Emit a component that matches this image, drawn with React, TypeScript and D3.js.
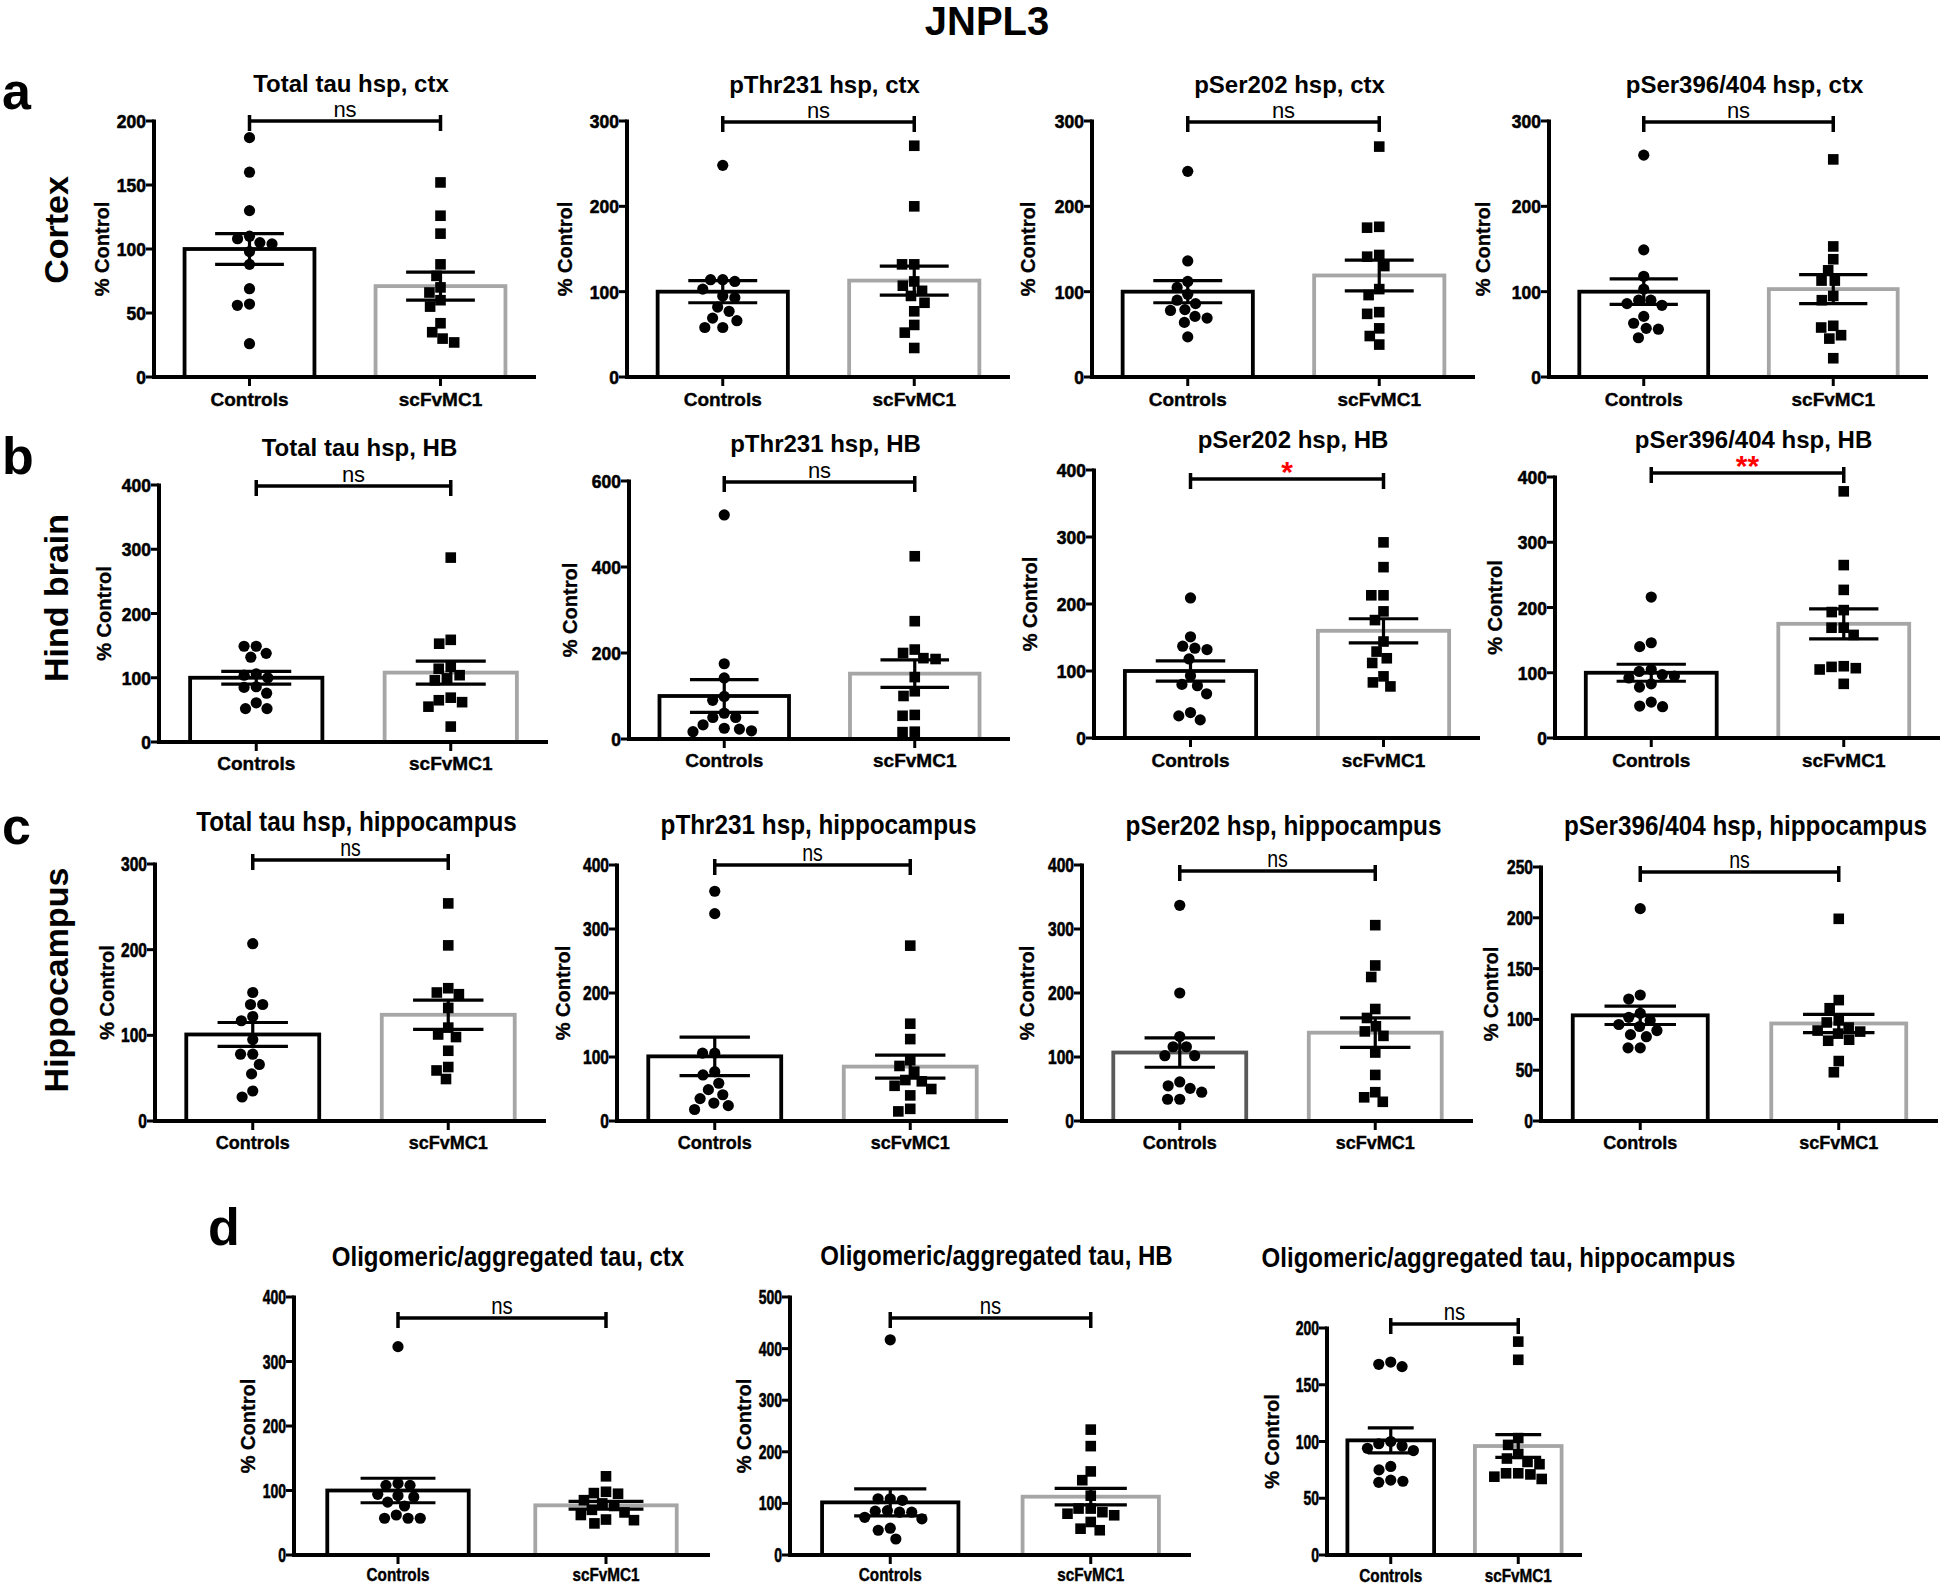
import React from "react";
import * as d3 from "d3";

// ---------- data ----------
const CATS = ["Controls", "scFvMC1"];
const TITLES = [
  "Total tau hsp, ctx", "pThr231 hsp, ctx", "pSer202 hsp, ctx", "pSer396/404 hsp, ctx",
  "Total tau hsp, HB", "pThr231 hsp, HB", "pSer202 hsp, HB", "pSer396/404 hsp, HB",
  "Total tau hsp, hippocampus", "pThr231 hsp, hippocampus", "pSer202 hsp, hippocampus", "pSer396/404 hsp, hippocampus",
  "Oligomeric/aggregated tau, ctx", "Oligomeric/aggregated tau, HB", "Oligomeric/aggregated tau, hippocampus",
];
const Y_MAX = [200, 300, 300, 300, 400, 600, 400, 400, 300, 400, 400, 250, 400, 500, 200];
const Y_STEP = [50, 100, 100, 100, 100, 200, 100, 100, 100, 100, 100, 50, 100, 100, 50];
const CTRL_MEAN = [100, 100, 100, 100, 100, 100, 100, 100, 101, 101, 107, 104, 100, 102, 101];
const CTRL_SEM = [12, 13, 13, 15, 10, 38, 15, 13, 14, 30, 23, 9, 19, 26, 11];
const TRT_MEAN = [71, 113, 119, 103, 108, 152, 160, 175, 124, 85, 138, 96, 77, 113, 96];
const TRT_SEM = [11, 17, 18, 17, 18, 32, 18, 23, 17, 18, 23, 9, 6, 16, 10];
const SIG = ["ns", "ns", "ns", "ns", "ns", "ns", "*", "**", "ns", "ns", "ns", "ns", "ns", "ns", "ns"];
const ROW_LABELS = ["Cortex", "Hind brain", "Hippocampus"];
const PANEL_LETTERS = ["a", "b", "c", "d"];
const FIG_TITLE = "JNPL3";
const Y_LABEL = "% Control";

const a1Ctrl = [187, 160, 130, 110, 108, 105, 104, 98, 88, 69, 57, 56, 26];
const a1Trt = [152, 126, 112, 88, 79, 70, 66, 60, 55, 42, 35, 30, 27];
const a2Ctrl = [248, 114, 114, 112, 103, 95, 93, 82, 77, 69, 66, 58, 58];
const a2Trt = [271, 200, 132, 132, 112, 107, 101, 95, 87, 77, 61, 52, 34];
const a3Ctrl = [241, 136, 112, 105, 97, 90, 86, 79, 78, 71, 69, 64, 47];
const a3Trt = [270, 176, 175, 143, 141, 130, 103, 96, 76, 74, 57, 48, 38];
const a4Ctrl = [260, 149, 118, 103, 90, 90, 86, 84, 71, 63, 57, 56, 46];
const a4Trt = [255, 153, 138, 125, 113, 113, 95, 90, 60, 58, 49, 45, 22];
const b1Ctrl = [149, 149, 138, 132, 106, 104, 100, 86, 85, 76, 61, 52, 52];
const b1Trt = [287, 159, 153, 117, 114, 104, 99, 96, 69, 65, 62, 55, 24];
const b2Ctrl = [521, 175, 142, 99, 90, 60, 50, 50, 33, 25, 23, 19, 17];
const b2Trt = [425, 274, 208, 200, 188, 186, 144, 111, 100, 56, 54, 17, 16];
const b3Ctrl = [209, 151, 137, 134, 132, 118, 93, 80, 78, 66, 38, 33, 27];
const b3Trt = [292, 255, 213, 213, 189, 176, 144, 129, 119, 112, 92, 83, 77];
const b4Ctrl = [216, 146, 140, 105, 102, 97, 95, 92, 83, 78, 55, 49, 48];
const b4Trt = [378, 265, 227, 196, 193, 169, 169, 158, 110, 109, 107, 105, 83];
const c1Ctrl = [207, 150, 136, 136, 122, 117, 95, 78, 78, 66, 55, 35, 28];
const c1Trt = [254, 205, 155, 150, 148, 132, 109, 101, 98, 82, 63, 59, 49];
const c2Ctrl = [359, 324, 106, 106, 77, 72, 59, 49, 41, 35, 28, 24, 18];
const c2Trt = [274, 152, 128, 95, 86, 77, 64, 62, 55, 50, 40, 19, 15];
const c3Ctrl = [337, 200, 132, 116, 116, 102, 102, 61, 55, 51, 45, 34, 34];
const c3Trt = [306, 243, 225, 175, 161, 148, 140, 133, 107, 72, 45, 37, 30];
const c4Ctrl = [209, 124, 120, 106, 102, 99, 95, 93, 89, 85, 83, 72, 72];
const c4Trt = [199, 119, 111, 99, 97, 92, 89, 88, 86, 80, 79, 59, 48];
const d1Ctrl = [323, 111, 108, 108, 94, 92, 90, 82, 76, 62, 57, 57, 57];
const d1Trt = [122, 98, 96, 95, 85, 80, 76, 70, 66, 62, 55, 54, 49];
const d2Ctrl = [417, 109, 109, 106, 86, 85, 83, 83, 73, 70, 52, 48, 31];
const d2Trt = [243, 211, 162, 145, 115, 90, 90, 83, 80, 77, 64, 51, 48];
const d3Ctrl = [170, 168, 166, 100, 98, 96, 94, 92, 78, 75, 66, 65, 64];
const d3Trt = [188, 172, 103, 97, 89, 85, 82, 80, 72, 72, 71, 69, 67];

const CTRL_PTS = [a1Ctrl, a2Ctrl, a3Ctrl, a4Ctrl, b1Ctrl, b2Ctrl, b3Ctrl, b4Ctrl, c1Ctrl, c2Ctrl, c3Ctrl, c4Ctrl, d1Ctrl, d2Ctrl, d3Ctrl];
const TRT_PTS = [a1Trt, a2Trt, a3Trt, a4Trt, b1Trt, b2Trt, b3Trt, b4Trt, c1Trt, c2Trt, c3Trt, c4Trt, d1Trt, d2Trt, d3Trt];

// ---------- layout (pixels) ----------
const LAYOUT = [
  { ax: 154, end: 536, top: 121, zero: 377, ty: 83, by: 121, cy: 399, lx: 52, row: 0 },
  { ax: 627, end: 1010, top: 121, zero: 377, ty: 84, by: 122, cy: 399, lx: 62, row: 0 },
  { ax: 1092, end: 1475, top: 121, zero: 377, ty: 84, by: 122, cy: 399, lx: 64, row: 0 },
  { ax: 1549, end: 1928, top: 121, zero: 377, ty: 84, by: 122, cy: 399, lx: 66, row: 0 },
  { ax: 159, end: 548, top: 485, zero: 742, ty: 447, by: 486, cy: 763, lx: 55, row: 0 },
  { ax: 629, end: 1010, top: 481, zero: 739, ty: 443, by: 482, cy: 760, lx: 59, row: 0 },
  { ax: 1094, end: 1480, top: 470, zero: 738, ty: 439, by: 479, cy: 760, lx: 64, row: 0 },
  { ax: 1555, end: 1940, top: 477, zero: 738, ty: 439, by: 473, cy: 760, lx: 60, row: 0 },
  { ax: 155, end: 546, top: 864, zero: 1121, ty: 822, by: 860, cy: 1142, lx: 48, row: 1 },
  { ax: 617, end: 1008, top: 865, zero: 1121, ty: 825, by: 865, cy: 1142, lx: 54, row: 1 },
  { ax: 1082, end: 1473, top: 865, zero: 1121, ty: 826, by: 871, cy: 1142, lx: 55, row: 1 },
  { ax: 1541, end: 1938, top: 867, zero: 1121, ty: 826, by: 872, cy: 1142, lx: 50, row: 1 },
  { ax: 294, end: 710, top: 1297, zero: 1555, ty: 1257, by: 1318, cy: 1574, lx: 46, row: 2 },
  { ax: 790, end: 1191, top: 1297, zero: 1555, ty: 1256, by: 1318, cy: 1574, lx: 46, row: 2 },
  { ax: 1327, end: 1582, top: 1328, zero: 1555, ty: 1258, by: 1324, cy: 1575, lx: 55, row: 2, tdx: 44 },
];
const ROW_STYLE = [
  { title: 24, tsx: 1, tick: 19, ksx: 0.92, cat: 19, csx: 1, ns: 22, nsx: 1 },
  { title: 27, tsx: 0.9, tick: 20, ksx: 0.78, cat: 19, csx: 0.95, ns: 23, nsx: 0.85 },
  { title: 27, tsx: 0.89, tick: 20, ksx: 0.7, cat: 18, csx: 0.85, ns: 24, nsx: 0.85 },
];
const FONT = "'Liberation Sans', Arial, Helvetica, sans-serif";
const GREY = "#a6a6a6";

type TxtProps = { x: number; y: number; size: number; sx?: number; rot?: number; anchor?: string; weight?: string | number; fill?: string; heavy?: number; children: React.ReactNode };
function Txt({ x, y, size, sx = 1, rot = 0, anchor = "middle", weight = "bold", fill = "#000", heavy = 0, children }: TxtProps) {
  const tf = `translate(${x},${y})${rot ? ` rotate(${rot})` : ""}${sx !== 1 ? ` scale(${sx},1)` : ""}`;
  return (
    <text transform={tf} fontFamily={FONT} fontSize={size} fontWeight={weight} textAnchor={anchor} fill={fill}
      stroke={heavy ? fill : undefined} strokeWidth={heavy || undefined}>
      {children}
    </text>
  );
}

// greedy beeswarm: offsets so markers don't overlap
function swarm(ys: number[], d: number): number[] {
  const order = ys.map((v, i) => i).sort((a, b) => ys[a] - ys[b]);
  const placed: { x: number; y: number }[] = [];
  const xs = new Array(ys.length).fill(0);
  for (const i of order) {
    const y = ys[i];
    const near = placed.filter((p) => Math.abs(p.y - y) < d);
    const cands = [0];
    for (const p of near) {
      const dx = Math.sqrt(d * d - (p.y - y) * (p.y - y));
      cands.push(p.x + dx, p.x - dx);
    }
    cands.sort((a, b) => Math.abs(a) - Math.abs(b) || a - b);
    let best = 0;
    for (const c of cands) {
      if (near.every((p) => (p.x - c) ** 2 + (p.y - y) ** 2 >= d * d - 0.01)) { best = c; break; }
    }
    xs[i] = best;
    placed.push({ x: best, y });
  }
  return xs;
}

function Panel({ i }: { i: number }) {
  const L = LAYOUT[i];
  const S = ROW_STYLE[L.row];
  const y = d3.scaleLinear().domain([0, Y_MAX[i]]).range([L.zero, L.top]);
  const x = d3.scalePoint<string>().domain(CATS).range([L.ax, L.end]).padding(0.5);
  const W = L.end - L.ax;
  const bw = 0.34 * W;
  const cap = 0.09 * W;
  const ticks = d3.range(0, Y_MAX[i] + 1e-6, Y_STEP[i]);
  const groups = [
    { cat: CATS[0], mean: CTRL_MEAN[i], sem: CTRL_SEM[i], pts: CTRL_PTS[i], stroke: i === 10 ? "#5a5a5a" : "#000", shape: "circle" },
    { cat: CATS[1], mean: TRT_MEAN[i], sem: TRT_SEM[i], pts: TRT_PTS[i], stroke: GREY, shape: "square" },
  ];
  const x0 = x(CATS[0])!;
  const x1 = x(CATS[1])!;
  const midX = (L.ax + L.end) / 2 + (L.tdx ?? 6);
  const sig = SIG[i];
  const isNs = sig === "ns";
  return (
    <g>
      <Txt x={midX} y={L.ty + 8.5} size={S.title} sx={S.tsx}>{TITLES[i]}</Txt>
      {groups.map((g) => (
        <rect key={g.cat} x={x(g.cat)! - bw / 2} y={y(g.mean)} width={bw} height={L.zero - y(g.mean)}
          fill="#fff" stroke={g.stroke} strokeWidth={3.8} />
      ))}
      {groups.map((g) => {
        const ys = g.pts.map((v) => y(v));
        const xs = swarm(ys, 12.2);
        return (
          <g key={g.cat + "p"}>
            {ys.map((py, k) =>
              g.shape === "circle" ? (
                <circle key={k} cx={x(g.cat)! + xs[k]} cy={py} r={5.6} fill="#000" />
              ) : (
                <rect key={k} x={x(g.cat)! + xs[k] - 5.3} y={py - 5.3} width={10.6} height={10.6} fill="#000" />
              )
            )}
          </g>
        );
      })}
      {groups.map((g) => {
        const cx = x(g.cat)!;
        const hi = y(g.mean + g.sem);
        const lo = y(g.mean - g.sem);
        return (
          <g key={g.cat + "e"} stroke="#000" strokeWidth={3.2}>
            <line x1={cx} x2={cx} y1={hi} y2={lo} />
            <line x1={cx - cap} x2={cx + cap} y1={hi} y2={hi} />
            <line x1={cx - cap} x2={cx + cap} y1={lo} y2={lo} />
          </g>
        );
      })}
      <g stroke="#000" strokeWidth={4}>
        <line x1={L.ax} x2={L.ax} y1={L.top - 1.5} y2={L.zero + 2} />
        <line x1={L.ax - 2} x2={L.end} y1={L.zero} y2={L.zero} />
        {ticks.map((t) => (
          <line key={t} x1={L.ax - 8} x2={L.ax} y1={y(t)} y2={y(t)} strokeWidth={3} />
        ))}
        {CATS.map((c) => (
          <line key={c} x1={x(c)!} x2={x(c)!} y1={L.zero} y2={L.zero + 9} strokeWidth={3} />
        ))}
      </g>
      {ticks.map((t) => (
        <Txt key={t} x={L.ax - 8} y={y(t) + 7} size={S.tick} sx={S.ksx} anchor="end" heavy={0.6}>{t}</Txt>
      ))}
      {CATS.map((c) => (
        <Txt key={c} x={x(c)!} y={L.cy + 7} size={S.cat} sx={S.csx} heavy={0.4}>{c}</Txt>
      ))}
      <Txt x={L.ax - L.lx + 7} y={(L.top + L.zero) / 2} size={20} rot={-90} heavy={0.3}>{Y_LABEL}</Txt>
      <g stroke="#000" strokeWidth={3.5}>
        <line x1={x0} x2={x1} y1={L.by} y2={L.by} />
        <line x1={x0} x2={x0} y1={L.by - 6} y2={L.by + 10} />
        <line x1={x1} x2={x1} y1={L.by - 6} y2={L.by + 10} />
      </g>
      {isNs ? (
        <Txt x={(x0 + x1) / 2} y={L.by - 4} size={S.ns} sx={S.nsx} weight="normal">{sig}</Txt>
      ) : (
        <Txt x={(x0 + x1) / 2} y={L.by + 3} size={30} fill="#ff0000">{sig}</Txt>
      )}
    </g>
  );
}

export default function App() {
  const rowLabelY = [230, 598, 980];
  const letterPos = [
    { x: 2, y: 109 },
    { x: 2, y: 474 },
    { x: 2, y: 844 },
    { x: 208, y: 1245 },
  ];
  return (
    <svg width={1946} height={1586} style={{ position: "absolute", left: 0, top: 0, background: "#fff" }}>
      <rect x={0} y={0} width={1946} height={1586} fill="#fff" />
      <Txt x={987} y={35} size={40}>{FIG_TITLE}</Txt>
      {PANEL_LETTERS.map((l, k) => (
        <Txt key={l} x={letterPos[k].x} y={letterPos[k].y} size={52} anchor="start">{l}</Txt>
      ))}
      {ROW_LABELS.map((r, k) => (
        <Txt key={r} x={68} y={rowLabelY[k]} size={34} rot={-90}>{r}</Txt>
      ))}
      {TITLES.map((t, i) => (
        <Panel key={i} i={i} />
      ))}
    </svg>
  );
}
